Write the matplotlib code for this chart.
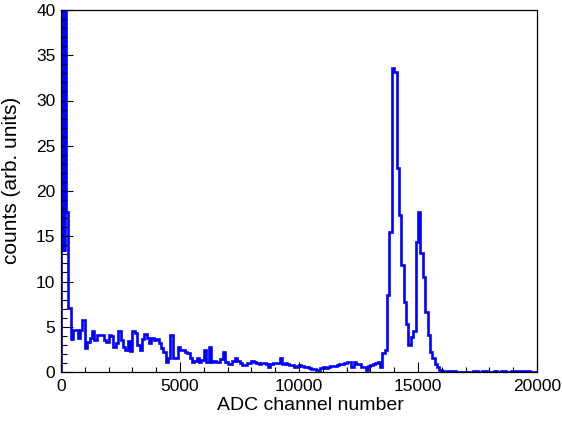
import numpy as np
import matplotlib
matplotlib.use('Agg')
import matplotlib.pyplot as plt
from matplotlib.ticker import MultipleLocator

plt.rcParams['font.family'] = ['Liberation Sans', 'DejaVu Sans']

# first 200 channels are finely binned (20 ch), strongly fluctuating, off scale
fine_edges = [0, 20, 40, 60, 80, 100, 120, 140, 160, 180]
fine_counts = [60, 13.5, 60, 13.5, 60, 13.5, 60, 13.5, 60, 60]

# 100-channel bins from 200 to 20000 (bins 2..199)
counts = [
    17.7, 7.1, 3.7, 4.6, 4.6, 3.8, 4.6, 5.7,                  # 2-9
    2.6, 3.3, 3.8, 4.5, 3.5, 4.1, 4.1, 4.1, 3.5, 3.3,         # 10-19
    4.1, 4.0, 2.8, 3.2, 4.5, 3.5, 2.8, 2.4, 3.4, 2.3,         # 20-29
    4.5, 4.3, 3.0, 2.4, 3.7, 4.2, 3.8, 3.2, 3.8, 3.5,         # 30-39
    3.6, 3.2, 2.6, 2.2, 1.1, 1.5, 4.1, 1.5, 1.5, 2.8,         # 40-49
    2.4, 2.4, 2.2, 2.1, 1.5, 1.1, 1.2, 1.5, 1.1, 1.3,         # 50-59
    2.4, 1.1, 2.8, 1.1, 1.2, 1.1, 1.1, 1.4, 2.2, 1.1,         # 60-69
    0.9, 0.9, 1.2, 1.5, 1.2, 1.0, 0.8, 0.8, 1.0, 1.0,         # 70-79
    1.2, 1.1, 1.0, 0.9, 1.0, 1.0, 0.9, 0.6, 0.9, 1.0,         # 80-89
    1.0, 1.0, 1.6, 0.9, 1.0, 0.9, 0.8, 0.8, 0.6, 0.7,         # 90-99
    0.8, 0.7, 0.6, 0.5, 0.4, 0.3, 0.3, 0.2, 0.2, 0.4,         # 100-109
    0.5, 0.4, 0.6, 0.7, 0.7, 0.7, 0.8, 0.9, 0.9, 1.0,         # 110-119
    1.1, 1.1, 0.5, 1.1, 0.85, 0.85, 0.6, 0.6, 0.2, 0.7,       # 120-129
    0.8, 0.9, 1.0, 1.1, 0.5, 2.1, 2.4, 8.5, 15.5, 33.6,       # 130-139
    33.2, 22.5, 17.3, 11.8, 7.7, 5.3, 3.0, 3.9, 4.5, 14.4,    # 140-149
    17.7, 13.2, 10.5, 6.6, 4.1, 2.2, 1.5, 0.9, 0.5, 0.2,      # 150-159
    0.15, 0.15, 0.15, 0.15, 0.15, 0.15, 0.03, 0.03, 0.03, 0.03,  # 160-169
    0.03, 0.03, 0.03, 0.15, 0.15, 0.03, 0.03, 0.15, 0.15, 0.03,  # 170-179
    0.03, 0.03, 0.12, 0.03, 0.03, 0.15, 0.15, 0.03, 0.03, 0.15,  # 180-189
    0.15, 0.15, 0.12, 0.12, 0.12, 0.12, 0.12, 0.05, 0.05, 0.05,  # 190-199
]

x_ticks = [0, 5000, 10000, 15000, 20000]
y_ticks = [0, 5, 10, 15, 20, 25, 30, 35, 40]
ymax = 40

edges = np.concatenate([fine_edges, np.arange(200, 20001, 100)])
values = np.minimum(np.concatenate([fine_counts, counts]), ymax)

fig = plt.figure(figsize=(5.62, 4.22), dpi=100)
ax = fig.add_axes([61/562, 50/422, 476/562, 362/422])

ax.stairs(values, edges, color=(0, 0, 1), lw=1.9, baseline=0)

ax.set_xlim(0, 20000)
ax.set_ylim(0, ymax)
ax.set_xticks(x_ticks)
ax.set_xticklabels([str(t) for t in x_ticks])
ax.set_yticks(y_ticks)
ax.xaxis.set_minor_locator(MultipleLocator(1000))
ax.yaxis.set_minor_locator(MultipleLocator(1))
ax.set_axisbelow(False)

ax.tick_params(which='both', direction='in', top=False, right=False,
               width=0.8, labelsize=12.5, colors='black')
ax.tick_params(axis='x', which='major', length=7.2, pad=5)
ax.tick_params(axis='x', which='minor', length=3.6)
ax.tick_params(axis='y', which='major', length=8.6, pad=4)
ax.tick_params(axis='y', which='minor', length=4.3)
for s in ax.spines.values():
    s.set_linewidth(0.9)

ax.set_xlabel('ADC channel number', fontsize=14)
ax.xaxis.set_label_coords(0.523, -0.068)
ax.set_ylabel('counts (arb. units)', fontsize=15)
ax.yaxis.set_label_coords(-0.083, 0.53)

fig.savefig('out.png', dpi=100)
